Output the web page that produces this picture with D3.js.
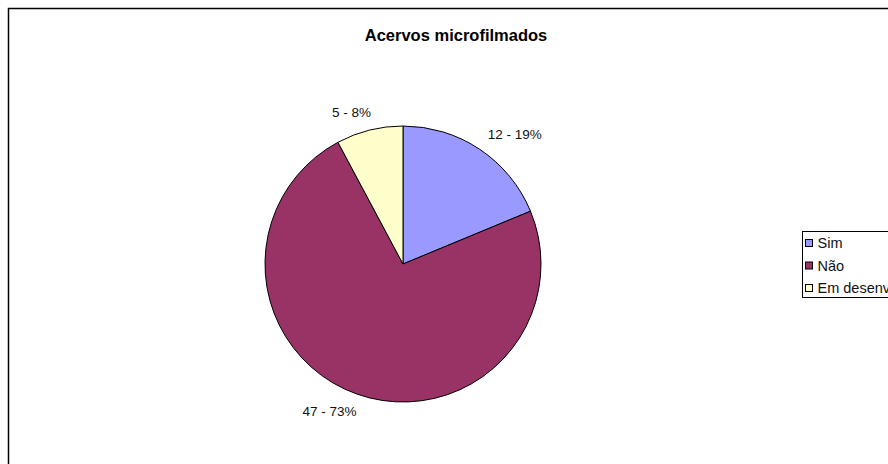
<!DOCTYPE html>
<html><head><meta charset="utf-8">
<script src="https://cdn.jsdelivr.net/npm/d3@7"></script>
<style>body{margin:0;background:#fff;overflow:hidden}svg{display:block;font-family:"Liberation Sans",Arial,sans-serif}</style>
</head><body>
<svg id="c" width="888" height="464"></svg>
<script>
const categories = ["Sim", "Não", "Em desenvolvimento"];
const values = [12, 47, 5];
const percents = ["19%", "73%", "8%"];
const colors = ["#9999FF", "#993366", "#FFFFCC"];
const title = "Acervos microfilmados";

const svg = d3.select("#c");
svg.append("rect").attr("x", 8.5).attr("y", 8.5).attr("width", 920).attr("height", 520)
  .attr("fill", "#fff").attr("stroke", "#000").attr("stroke-width", 1.5);

svg.append("text").attr("x", 456).attr("y", 41).attr("text-anchor", "middle")
  .attr("font-weight", "bold").attr("font-size", 16.5).text(title);

const cx = 403, cy = 264, r = 138;
const pie = d3.pie().sort(null).value(d => d)(values);
const arc = d3.arc().innerRadius(0).outerRadius(r);
const g = svg.append("g").attr("transform", `translate(${cx},${cy})`);
g.selectAll("path").data(pie).join("path")
  .attr("d", arc).attr("fill", (d, i) => colors[i])
  .attr("stroke", "#000").attr("stroke-width", 1);

const labelArc = d3.arc().innerRadius(r + 18).outerRadius(r + 18);
g.selectAll("text.lbl").data(pie).join("text").attr("class", "lbl")
  .attr("transform", d => {
    const [x, y] = labelArc.centroid(d);
    return `translate(${x >= 0 ? x - 2 : x + 6},${y})`;
  })
  .attr("text-anchor", d => labelArc.centroid(d)[0] >= 0 ? "start" : "end")
  .attr("dy", "0.35em").attr("font-size", 13.5).attr("fill", "#111")
  .text((d, i) => `${values[i]} - ${percents[i]}`);

const lg = svg.append("g").attr("transform", "translate(802.5,231.5)");
lg.append("rect").attr("width", 120).attr("height", 66).attr("fill", "#fff").attr("stroke", "#000").attr("stroke-width", 1);
const items = lg.selectAll("g").data(categories).join("g")
  .attr("transform", (d, i) => `translate(3,${11.5 + i * 22.5})`);
items.append("rect").attr("x", 0).attr("y", -3.5).attr("width", 7).attr("height", 7)
  .attr("fill", (d, i) => colors[i]).attr("stroke", "#000").attr("stroke-width", 1);
items.append("text").attr("x", 12).attr("dy", "0.36em").attr("font-size", 14.5).attr("fill", "#111").text(d => d);
</script>
</body></html>
